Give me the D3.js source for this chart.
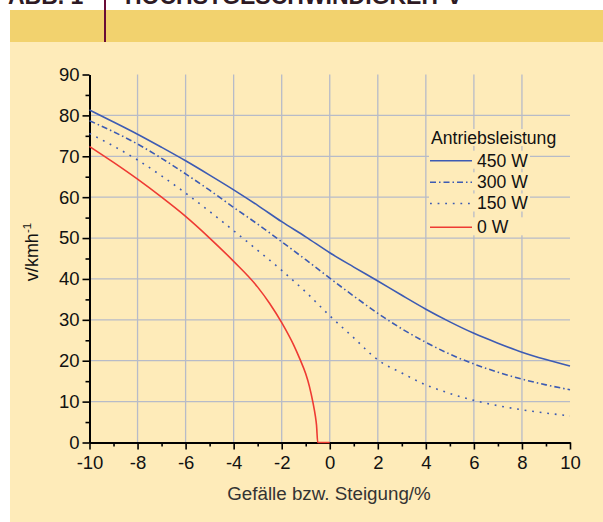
<!DOCTYPE html>
<html>
<head>
<meta charset="utf-8">
<script src="https://cdn.jsdelivr.net/npm/d3@7"></script>
<style>
  html, body { margin: 0; padding: 0; background: #ffffff; }
  svg { display: block; font-family: "Liberation Sans", Arial, sans-serif; }
</style>
</head>
<body>
<svg id="chart" width="603" height="522"></svg>
<script>
// ---- data ----
const slopes = [-10,-9,-8,-7,-6,-5,-4,-3,-2,-1,0,1,2,3,4,5,6,7,8,9,10];
const v450 = [81.3,78.4,75.4,72.2,68.9,65.4,61.8,58.0,54.0,50.3,46.4,42.9,39.5,36.0,32.6,29.5,26.7,24.3,22.1,20.3,18.7];
const v300 = [78.7,76.0,73.0,69.5,65.7,61.7,57.5,53.4,49.1,44.7,40.2,35.8,31.6,27.8,24.5,21.6,19.2,17.2,15.5,14.1,12.9];
const v150 = [75.6,72.5,69.1,65.2,61.0,56.5,51.8,47.0,42.1,36.8,31.0,25.6,20.2,17.0,14.1,12.0,10.3,9.0,8.0,7.2,6.5];
const slopes0 = [-10,-9,-8,-7,-6,-5,-4,-3,-2.5,-2,-1.5,-1.25,-1,-0.85,-0.7,-0.6,-0.55,-0.5,0];
const v0 = [72.4,68.5,64.4,60.0,55.3,50.0,44.3,38.0,34.0,29.3,23.8,20.5,16.8,13.8,9.8,6.5,4.2,0,0];

const seriesNames = ["450 W","300 W","150 W","0 W"];
const xTicks = [-10,-8,-6,-4,-2,0,2,4,6,8,10];
const yTicks = [0,10,20,30,40,50,60,70,80,90];
const xTitle = "Gefälle bzw. Steigung/%";
const legendTitle = "Antriebsleistung";
const headerLeft = "ABB. 1";
const headerRight = "HÖCHSTGESCHWINDIGKEIT v";

// ---- setup ----
const svg = d3.select("#chart");
const BG = "#feebb9", BAND = "#f2d26e", BLUE = "#3d5bb3", RED = "#ee3a33", GRID = "#b7bbc8";

svg.append("rect").attr("x",0).attr("y",0).attr("width",603).attr("height",522).attr("fill","#ffffff");
svg.append("rect").attr("x",10).attr("y",42).attr("width",593).attr("height",480).attr("fill",BG);
svg.append("rect").attr("x",10).attr("y",10).attr("width",593).attr("height",32).attr("fill",BAND);
svg.append("rect").attr("x",104).attr("y",0).attr("width",2).attr("height",42).attr("fill","#6a0c36");
svg.append("text").attr("x",8).attr("y",3.5).attr("font-size",23).attr("font-weight","bold")
  .attr("fill","#2e1a24").text(headerLeft);
svg.append("text").attr("x",125).attr("y",3.5).attr("font-size",23).attr("font-weight","bold")
  .attr("fill","#2e1a24").text(headerRight);

const x = d3.scaleLinear().domain([-10,10]).range([89.5,570]);
const y = d3.scaleLinear().domain([0,90]).range([442.5,74.5]);

// grid
const g = svg.append("g");
g.selectAll("line.vg").data(xTicks.filter(d => d > -10 && d < 10)).join("line")
  .attr("x1", d => x(d)).attr("x2", d => x(d)).attr("y1", y(0)).attr("y2", y(90))
  .attr("stroke", GRID).attr("stroke-width", 1.3);
g.selectAll("line.hg").data(yTicks.filter(d => d > 0 && d < 90)).join("line")
  .attr("x1", x(-10)).attr("x2", x(10)).attr("y1", d => y(d)).attr("y2", d => y(d))
  .attr("stroke", GRID).attr("stroke-width", 1.3);

// axes
const fmt = d => String(d);
const xMinor = d3.range(-9, 10, 2);
const yMinor = d3.range(5, 90, 10);
const xAxis = svg.append("g").attr("transform", `translate(0,${y(0)})`)
  .call(d3.axisBottom(x).tickValues(xTicks).tickFormat(fmt).tickSize(7).tickSizeOuter(0).tickPadding(6));
const xAxisMinor = svg.append("g").attr("transform", `translate(0,${y(0)})`)
  .call(d3.axisBottom(x).tickValues(xMinor).tickFormat("").tickSize(4).tickSizeOuter(0));
const yAxis = svg.append("g").attr("transform", `translate(${x(-10)},0)`)
  .call(d3.axisLeft(y).tickValues(yTicks).tickFormat(fmt).tickSize(7).tickSizeOuter(0).tickPadding(3));
const yAxisMinor = svg.append("g").attr("transform", `translate(${x(-10)},0)`)
  .call(d3.axisLeft(y).tickValues(yMinor).tickFormat("").tickSize(4).tickSizeOuter(0));
[xAxis, xAxisMinor, yAxis, yAxisMinor].forEach(a => {
  a.selectAll("path.domain").attr("stroke","#000").attr("stroke-width",2);
  a.selectAll(".tick line").attr("stroke","#000").attr("stroke-width",1.6);
  a.selectAll(".tick text").attr("font-size",18.5).attr("fill","#111")
    .attr("font-family",'"Liberation Sans", Arial, sans-serif');
});

// curves (drawn over the axes, as in the reference)
const line = d3.line().x(d => x(d[0])).y(d => y(d[1])).curve(d3.curveMonotoneX);
const styles = [
  {data: d3.zip(slopes, v450), color: BLUE, dash: null},
  {data: d3.zip(slopes, v300), color: BLUE, dash: "6,3,1.5,3"},
  {data: d3.zip(slopes, v150), color: BLUE, dash: "1.8,5.8"},
  {data: d3.zip(slopes0, v0), color: RED, dash: null}
];
styles.forEach(s => {
  svg.append("path").attr("d", line(s.data)).attr("fill","none")
    .attr("stroke", s.color).attr("stroke-width", 1.6)
    .attr("stroke-dasharray", s.dash);
});

// axis titles
svg.append("text").attr("x", 329).attr("y", 500).attr("text-anchor","middle")
  .attr("font-size",18.8).attr("fill","#333").text(xTitle);
const yl = svg.append("text").attr("transform","translate(38,252) rotate(-90)")
  .attr("text-anchor","middle").attr("font-size",18).attr("fill","#111");
yl.append("tspan").text("v/kmh");
yl.append("tspan").attr("font-size",11.5).attr("dy",-7).text("-1");

// legend
const leg = svg.append("g");
const lx = 430, rowY = [160.7, 182.3, 203.5, 227.3];
leg.append("rect").attr("x",429).attr("y",129).attr("width",129).attr("height",17).attr("fill",BG);
leg.append("text").attr("x",431).attr("y",143.5).attr("font-size",17.6).attr("fill","#111").text(legendTitle);
seriesNames.forEach((n,i) => {
  leg.append("rect").attr("x",lx-1).attr("y",rowY[i]-10).attr("width",101).attr("height",18).attr("fill",BG);
  leg.append("line").attr("x1",lx).attr("x2",lx+42).attr("y1",rowY[i]).attr("y2",rowY[i])
    .attr("stroke", styles[i].color).attr("stroke-width",1.6).attr("stroke-dasharray", styles[i].dash);
  leg.append("text").attr("x",lx+47).attr("y",rowY[i]+5.8).attr("font-size",17.6).attr("fill","#111").text(n);
});
</script>
</body>
</html>
